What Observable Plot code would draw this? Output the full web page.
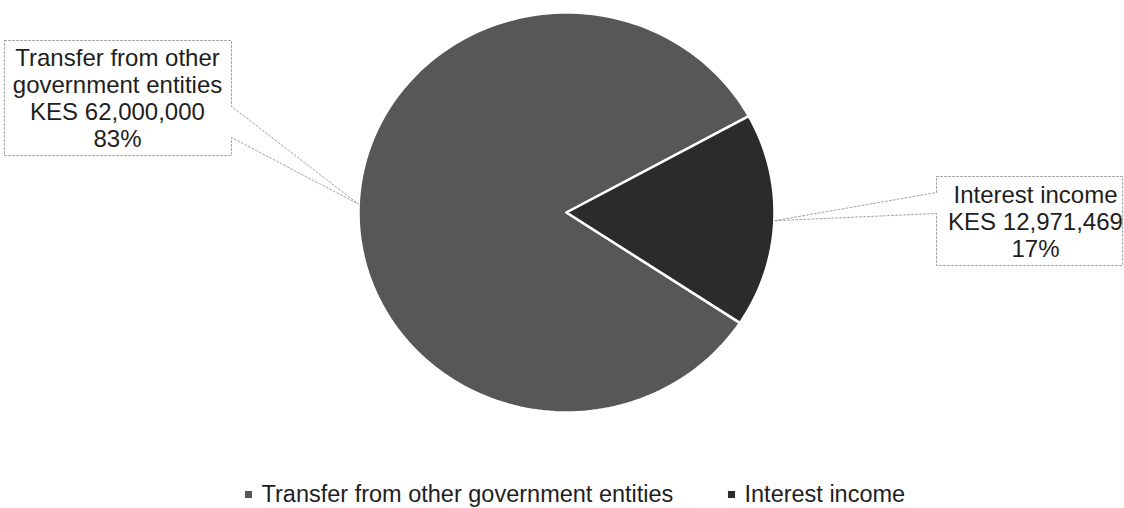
<!DOCTYPE html>
<html>
<head>
<meta charset="utf-8">
<script src="https://cdn.jsdelivr.net/npm/d3@7"></script>
<script src="https://cdn.jsdelivr.net/npm/@observablehq/plot@0.6"></script>
<style>
  html, body { margin: 0; padding: 0; background: #fff; }
  #chart svg { display: block; }
</style>
</head>
<body>
<div id="chart"></div>
<script>
// ---- Data ----
const categories = ["Transfer from other government entities", "Interest income"];
const amounts = [62000000, 12971469];
const calloutNames = ["Transfer from other\ngovernment entities", "Interest income"];
const currency = "KES";
const sliceColors = ["#575757", "#2b2b2b"];

// ---- Layout ----
const W = 1124, H = 508;
const cx = 566, cy = 212, rx = 208, ry = 200;
const startDeg = 123.5; // rotation of first slice (clockwise from 12 o'clock)
const textColor = "#1e1e1e";
const font = "Liberation Sans, Arial, sans-serif";

const total = d3.sum(amounts);
const slices = d3.pie().sort(null).value(d => d)
  .startAngle(startDeg * Math.PI / 180)
  .endAngle(startDeg * Math.PI / 180 + 2 * Math.PI)(amounts);

const px = a => cx + rx * Math.sin(a);
const py = a => cy - ry * Math.cos(a);

// slice polygons (centre + sampled arc)
const slicePts = slices.map((s, i) => {
  const pts = [{x: cx, y: cy}];
  const n = 180;
  for (let k = 0; k <= n; k++) {
    const a = s.startAngle + (s.endAngle - s.startAngle) * k / n;
    pts.push({x: px(a), y: py(a)});
  }
  return pts;
});

// callout boxes (left box for slice 0, right box for slice 1)
const boxes = [
  {x1: 4, x2: 231, y1: 40, y2: 155, side: "right", n1: 106, n2: 137, tx: 117},
  {x1: 936, x2: 1122, y1: 176, y2: 265, side: "left", n1: 192, n2: 213, tx: 1035}
];
const boxPolys = slices.map((s, i) => {
  const b = boxes[i];
  const mid = (s.startAngle + s.endAngle) / 2;
  const ax = px(mid), ay = py(mid);
  if (b.side === "right") {
    return [
      {x: b.x1, y: b.y1}, {x: b.x2, y: b.y1}, {x: b.x2, y: b.n1},
      {x: ax, y: ay}, {x: b.x2, y: b.n2}, {x: b.x2, y: b.y2},
      {x: b.x1, y: b.y2}, {x: b.x1, y: b.y1}
    ];
  }
  return [
    {x: b.x1, y: b.y1}, {x: b.x2, y: b.y1}, {x: b.x2, y: b.y2},
    {x: b.x1, y: b.y2}, {x: b.x1, y: b.n2}, {x: ax, y: ay},
    {x: b.x1, y: b.n1}, {x: b.x1, y: b.y1}
  ];
});

const labelData = slices.map((s, i) => ({
  x: boxes[i].tx,
  y: (boxes[i].y1 + boxes[i].y2) / 2,
  text: `${calloutNames[i]}\n${currency} ${d3.format(",")(amounts[i])}\n${Math.round(amounts[i] / total * 100)}%`
}));

const legendX = [248, 731];
const legendY = 494;
const legendData = categories.map((c, i) => ({x: legendX[i], y: legendY, name: c, color: sliceColors[i]}));

const marks = [];
slicePts.forEach((pts, i) => {
  marks.push(Plot.line(pts, {x: "x", y: "y", fill: sliceColors[i], stroke: "#fff", strokeWidth: 2.5, curve: "linear-closed", strokeLinejoin: "round"}));
});
boxPolys.forEach(pts => {
  marks.push(Plot.line(pts, {x: "x", y: "y", stroke: "#9a9a9a", strokeWidth: 0.9, strokeDasharray: "2,2"}));
});
marks.push(Plot.text(labelData, {
  x: "x", y: "y", text: "text", fontSize: 24, lineHeight: 1.13, fill: textColor,
  fontFamily: font, textAnchor: "middle", lineAnchor: "middle"
}));
marks.push(Plot.dot(legendData, {x: "x", y: "y", symbol: "square", r: 4, fill: "color", stroke: null}));
marks.push(Plot.text(legendData, {
  x: d => d.x + 13, y: "y", text: "name", fontSize: 23.5, fill: textColor,
  fontFamily: font, textAnchor: "start"
}));

const chart = Plot.plot({
  width: W, height: H,
  margin: 0,
  x: {domain: [0, W], range: [0, W], axis: null},
  y: {domain: [0, H], range: [0, H], axis: null},
  color: {type: "identity"},
  style: {background: "#fff", fontFamily: font},
  marks
});
document.getElementById("chart").appendChild(chart);
</script>
</body>
</html>
